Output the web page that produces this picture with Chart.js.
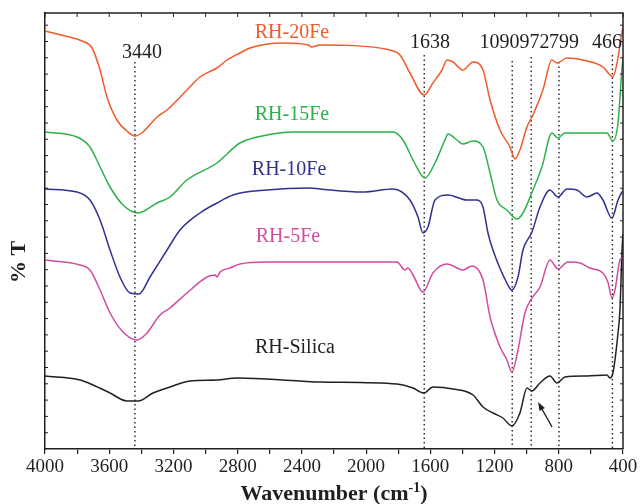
<!DOCTYPE html>
<html><head><meta charset="utf-8">
<script src="https://cdn.jsdelivr.net/npm/chart.js@4.4.1/dist/chart.umd.min.js"></script>
<style>html,body{margin:0;background:#fff}</style>
</head><body>
<canvas id="c" width="640" height="504"></canvas>
<script>
// FTIR spectra, values (T in arbitrary units, offsets included)
const SERIF = "'Liberation Serif', 'Times New Roman', serif";
const INK = "#231f20";

const wn20 = [4000,3826,3770,3707,3657,3614,3552,3490,3440,3390,3302,3240,3116,3035,2929,2866,2786,2723,2518,2360,2340,2287,1851,1789,1727,1638,1584,1527,1496,1459,1397,1334,1272,1228,1166,1104,1073,1042,998,961,899,843,811,749,624,525,481,463,437,406,400];
const t20  = [418,411,408,401,379,352,329,318,313,317,332,339,359,372,381,389,396,401,406,404,402,404,399,394,376,354,366,379,389,387,379,387,379,349,319,302,290,299,322,334,359,389,386,391,388,382,374,372,386,417,421];

const wn15 = [4000,3800,3720,3657,3595,3514,3420,3302,3222,3116,2929,2786,2618,2456,2287,1833,1770,1708,1633,1571,1509,1490,1434,1397,1334,1272,1228,1185,1123,1060,1023,961,905,843,805,762,500,463,431,406,400];
const t15  = [317,312,302,282,262,244,236,246,252,269,286,306,314,317,317,317,309,289,271,286,309,315,309,305,308,302,276,249,239,230,236,259,282,316,311,316,316,308,326,381,389];

const wn10 = [4000,3800,3720,3657,3595,3533,3470,3415,3346,3240,3159,3035,2929,2829,2618,2350,2287,2020,1833,1727,1677,1646,1615,1571,1490,1372,1309,1272,1241,1210,1123,1092,1054,1023,967,917,855,805,749,687,624,562,525,469,431,406,400];
const t10  = [260,257,249,229,199,172,156,155,172,199,219,236,246,254,259,261,260,257,260,249,232,216,222,249,254,249,249,242,216,199,166,159,172,199,217,242,259,252,260,259,252,256,249,231,249,257,258];

const wn5 = [4000,3782,3720,3657,3595,3514,3427,3365,3284,3222,3116,2991,2940,2929,2910,2848,2786,2618,2287,1808,1758,1740,1708,1646,1584,1496,1397,1340,1272,1228,1166,1123,1092,1054,1011,967,917,855,805,743,668,606,525,494,469,450,419,406,400];
const t5  = [189,184,179,159,136,117,109,116,134,141,156,172,174,172,177,181,185,187,187,187,179,181,174,157,176,185,179,183,169,132,102,89,77,99,136,151,162,189,180,187,186,181,176,167,151,159,189,191,192];

const wnSi = [4000,3782,3701,3595,3489,3420,3327,3222,3097,2929,2804,2412,2287,1808,1708,1640,1584,1459,1334,1272,1210,1148,1092,1042,998,967,917,855,811,762,624,500,481,463,431,419,406,400];
const tSi  = [73,69,64,56,48,48,56,62,68,69,71,68,67,65,61,56,62,60,54,42,36,31,23,36,61,58,66,73,66,72,73,74,71,76,116,139,199,215];

const SERIES = [
  { name: "RH-20Fe",   wn: wn20, t: t20, color: "#f15a29", lx: 2462, ly: 416 },
  { name: "RH-15Fe",   wn: wn15, t: t15, color: "#2bb04a", lx: 2462, ly: 334 },
  { name: "RH-10Fe",   wn: wn10, t: t10, color: "#2e3192", lx: 2480, ly: 279 },
  { name: "RH-5Fe",    wn: wn5,  t: t5,  color: "#d14c9f", lx: 2487, ly: 212 },
  { name: "RH-Silica", wn: wnSi, t: tSi, color: INK,       lx: 2443, ly: 101 },
];

// marked bands: wavenumber, top of dotted guide (T units), label spot
const PEAKS = [3440, 1638, 1090, 972, 799, 466];
const PEAK_TOP = [387, 394, 388, 392, 387, 394];
const PEAK_LABEL_X = [3396, 1602, 1169, 951, 768, 500];
const PEAK_LABEL_Y = [396, 406, 406, 406, 406, 406];
const X_LABELS = [4000, 3600, 3200, 2800, 2400, 2000, 1600, 1200, 800, 400];
const ARROW = [[842, 22], [929, 47]];

const datasets = SERIES.map((s) => ({
  data: s.wn.map((w, i) => ({ x: w, y: s.t[i] })),
  borderColor: s.color, borderWidth: 1.5, pointRadius: 0,
  cubicInterpolationMode: "monotone", fill: false,
}));
PEAKS.forEach((p, i) => datasets.push({
  data: [{ x: p, y: PEAK_TOP[i] }, { x: p, y: 0 }],
  borderColor: INK, borderWidth: 1.4, borderDash: [1.5, 3], pointRadius: 0,
}));

const decor = {
  id: "decor",
  afterDraw(chart) {
    const { ctx, chartArea: a, scales: { x, y } } = chart;
    ctx.save();
    // top/right frame + inward ticks
    ctx.strokeStyle = INK; ctx.lineWidth = 1.5;
    ctx.beginPath();
    ctx.moveTo(a.left, a.top); ctx.lineTo(a.right, a.top); ctx.lineTo(a.right, a.bottom);
    ctx.stroke();
    ctx.lineWidth = 1;
    ctx.beginPath();
    for (let w = 400; w <= 4000; w += 200) {
      const px = x.getPixelForValue(w);
      ctx.moveTo(px, a.top); ctx.lineTo(px, a.top + 4);
    }
    for (let v = 16.3; v < 436; v += 16.3) {
      const py = y.getPixelForValue(v);
      ctx.moveTo(a.left, py); ctx.lineTo(a.left + 3, py);
      ctx.moveTo(a.right, py); ctx.lineTo(a.right - 3, py);
    }
    ctx.stroke();

    // series names
    ctx.textAlign = "center"; ctx.textBaseline = "middle";
    ctx.font = `20px ${SERIF}`;
    SERIES.forEach((s) => {
      ctx.fillStyle = s.color;
      ctx.fillText(s.name, x.getPixelForValue(s.lx), y.getPixelForValue(s.ly));
    });

    // band labels
    ctx.fillStyle = INK; ctx.font = `20px ${SERIF}`;
    PEAKS.forEach((p, i) => {
      ctx.fillText(String(p), x.getPixelForValue(PEAK_LABEL_X[i]), y.getPixelForValue(PEAK_LABEL_Y[i]));
    });

    // arrow
    const x0 = x.getPixelForValue(ARROW[0][0]), y0 = y.getPixelForValue(ARROW[0][1]);
    const x1 = x.getPixelForValue(ARROW[1][0]), y1 = y.getPixelForValue(ARROW[1][1]);
    const ang = Math.atan2(y1 - y0, x1 - x0);
    ctx.strokeStyle = INK; ctx.lineWidth = 1.4;
    ctx.beginPath(); ctx.moveTo(x0, y0); ctx.lineTo(x1 - 6 * Math.cos(ang), y1 - 6 * Math.sin(ang)); ctx.stroke();
    ctx.beginPath();
    ctx.moveTo(x1, y1);
    ctx.lineTo(x1 - 9 * Math.cos(ang - 0.35), y1 - 9 * Math.sin(ang - 0.35));
    ctx.lineTo(x1 - 9 * Math.cos(ang + 0.35), y1 - 9 * Math.sin(ang + 0.35));
    ctx.closePath(); ctx.fill();

    // axis titles
    const big = `bold 22px ${SERIF}`, sup = `bold 14px ${SERIF}`;
    const t1 = "Wavenumber (cm", t3 = ")";
    ctx.font = big;
    const w1 = ctx.measureText(t1).width, w3 = ctx.measureText(t3).width;
    ctx.font = sup; const w2 = ctx.measureText("-1").width;
    let cx = (a.left + a.right) / 2 - (w1 + w2 + w3) / 2;
    const by = 500;
    ctx.textAlign = "left"; ctx.textBaseline = "alphabetic";
    ctx.font = big; ctx.fillText(t1, cx, by); cx += w1;
    ctx.font = sup; ctx.fillText("-1", cx, by - 8); cx += w2;
    ctx.font = big; ctx.fillText(t3, cx, by);

    ctx.translate(19, 262); ctx.rotate(-Math.PI / 2);
    ctx.textAlign = "center"; ctx.textBaseline = "middle";
    ctx.fillText("% T", 0, 0);
    ctx.restore();
  },
};

new Chart("c", {
  type: "line",
  data: { datasets },
  options: {
    responsive: false, animation: false, devicePixelRatio: 1,
    layout: { padding: { top: 13, right: 17, left: 0, bottom: 0 } },
    plugins: { legend: { display: false }, tooltip: { enabled: false } },
    scales: {
      x: {
        type: "linear", reverse: true, min: 400, max: 4000,
        ticks: { stepSize: 200, autoSkip: false, maxRotation: 0, padding: 2, color: INK,
          font: { family: SERIF, size: 19 },
          callback: (v) => (X_LABELS.includes(v) ? String(v) : "") },
        grid: { drawOnChartArea: false, drawTicks: true, tickLength: 5, color: INK, lineWidth: 1.2 },
        border: { color: INK, width: 1.5 },
        afterFit: (s) => { s.height = 55; },
      },
      y: {
        min: 0, max: 436,
        ticks: { display: false },
        grid: { display: false },
        border: { color: INK, width: 1.5 },
        afterFit: (s) => { s.width = 45; },
      },
    },
  },
  plugins: [decor],
});
</script>
</body></html>
